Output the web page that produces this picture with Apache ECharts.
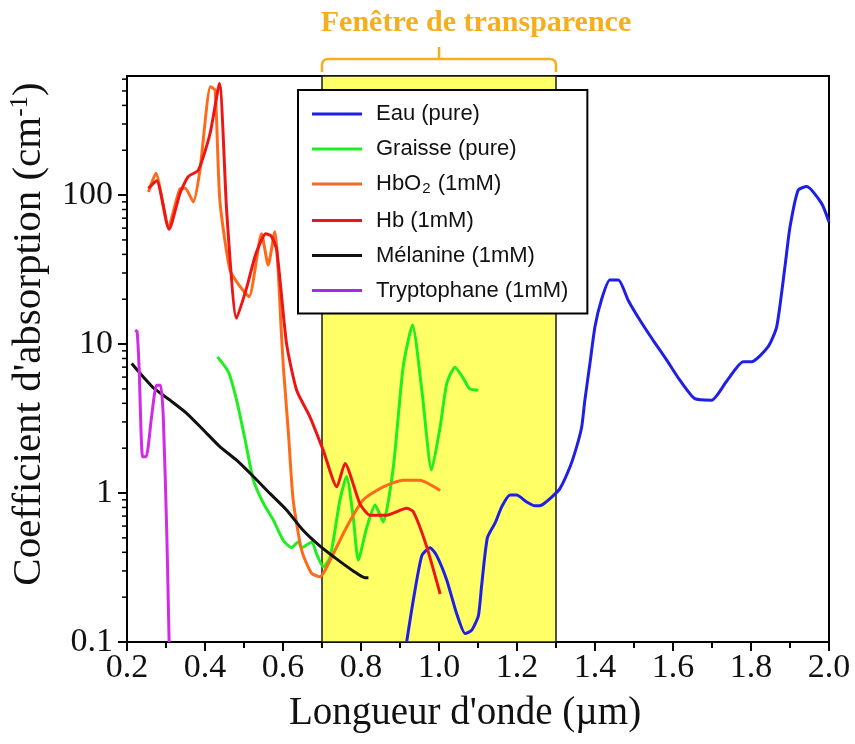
<!DOCTYPE html>
<html>
<head>
<meta charset="utf-8">
<script src="https://cdn.jsdelivr.net/npm/echarts@6/dist/echarts.min.js"></script>
<style>
  html, body { margin: 0; padding: 0; background: #fff; }
  #chart { width: 855px; height: 744px; }
</style>
</head>
<body>
<div id="chart"></div>
<script>
// Absorption spectra: wavelength (µm) and absorption coefficient (cm-1)
const eauX = [0.917, 0.934, 0.956, 0.977, 0.994, 1.020, 1.045, 1.067, 1.084, 1.101, 1.109, 1.124, 1.144, 1.161, 1.182, 1.199, 1.225, 1.246, 1.263, 1.289, 1.310, 1.336, 1.353, 1.366, 1.374, 1.387, 1.400, 1.417, 1.438, 1.460, 1.485, 1.515, 1.549, 1.584, 1.618, 1.656, 1.699, 1.737, 1.780, 1.801, 1.844, 1.866, 1.887, 1.900, 1.921, 1.943, 1.981, 2.000];
const eauY = [0.1, 0.19, 0.38, 0.43, 0.38, 0.26, 0.156, 0.114, 0.12, 0.15, 0.235, 0.50, 0.63, 0.81, 0.97, 0.97, 0.87, 0.82, 0.83, 0.94, 1.07, 1.50, 2.05, 2.79, 4.2, 7.4, 13.1, 20, 26.9, 26.9, 19.7, 14.5, 10.6, 7.8, 5.7, 4.3, 4.2, 5.6, 7.6, 7.6, 9.6, 13.1, 33, 61, 108, 114, 88, 66];

const graisseX = [0.432, 0.460, 0.481, 0.503, 0.524, 0.550, 0.575, 0.601, 0.622, 0.639, 0.648, 0.674, 0.686, 0.703, 0.721, 0.746, 0.763, 0.780, 0.793, 0.815, 0.836, 0.857, 0.883, 0.908, 0.932, 0.956, 0.981, 1.003, 1.020, 1.041, 1.062, 1.079, 1.101];
const graisseY = [8.2, 6.5, 4.2, 2.27, 1.22, 0.85, 0.66, 0.48, 0.43, 0.47, 0.43, 0.47, 0.39, 0.32, 0.37, 0.90, 1.29, 0.69, 0.355, 0.59, 0.83, 0.64, 1.50, 7.0, 13.4, 4.9, 1.43, 2.79, 5.45, 7.0, 5.9, 5.0, 4.9];

const hbo2X = [0.255, 0.274, 0.306, 0.336, 0.349, 0.370, 0.387, 0.414, 0.426, 0.438, 0.464, 0.490, 0.513, 0.545, 0.562, 0.579, 0.588, 0.595, 0.601, 0.614, 0.626, 0.648, 0.673, 0.695, 0.721, 0.763, 0.806, 0.857, 0.908, 0.951, 1.003];
const hbo2Y = [105, 140, 61, 110, 111, 90, 147, 533, 507, 92.5, 31.4, 24.3, 20.8, 55, 33.9, 56.7, 30, 13, 7.0, 2.5, 0.90, 0.41, 0.29, 0.274, 0.355, 0.59, 0.90, 1.10, 1.22, 1.22, 1.04];

const hbX = [0.255, 0.276, 0.308, 0.336, 0.357, 0.383, 0.413, 0.437, 0.456, 0.481, 0.507, 0.530, 0.556, 0.570, 0.584, 0.609, 0.635, 0.669, 0.703, 0.738, 0.759, 0.797, 0.823, 0.866, 0.917, 0.934, 0.968, 1.003];
const hbY = [111, 125, 59, 103, 133, 147, 259, 562, 75, 14.9, 24, 40, 55, 53, 42.7, 10.1, 4.9, 3.25, 1.94, 1.10, 1.58, 0.85, 0.71, 0.71, 0.79, 0.75, 0.44, 0.21];

const melanineX = [0.212, 0.242, 0.267, 0.310, 0.353, 0.396, 0.438, 0.481, 0.524, 0.567, 0.609, 0.652, 0.695, 0.738, 0.780, 0.810, 0.819];
const melanineY = [7.4, 6.0, 5.1, 4.2, 3.43, 2.65, 2.05, 1.66, 1.29, 0.99, 0.77, 0.56, 0.44, 0.36, 0.30, 0.27, 0.27];

const tryptoX = [0.221, 0.226, 0.231, 0.240, 0.249, 0.263, 0.276, 0.286, 0.293, 0.302, 0.308];
const tryptoY = [12.4, 12.1, 7.0, 1.75, 1.75, 3.25, 5.3, 5.3, 3.25, 0.54, 0.1];

// Axis settings and the transparency window
const xMin = 0.2, xMax = 2.0, xStep = 0.2;
const yMin = 0.1, yMax = 630;
const yLabels = [0.1, 1, 10, 100];
const yMinorTicks = [0.2, 0.3, 0.4, 0.5, 0.6, 0.7, 0.8, 0.9, 2, 3, 4, 5, 6, 7, 8, 9, 20, 30, 40, 50, 60, 70, 80, 90, 200, 300, 400, 500, 600];
const windowRange = [0.7, 1.3];
const windowTitle = 'Fenêtre de transparence';

const names = ['Eau (pure)', 'Graisse (pure)', 'HbO2 (1mM)', 'Hb (1mM)', 'Mélanine (1mM)', 'Tryptophane (1mM)'];
const colors = ['#1f1fe6', '#1fee1f', '#ff6a1a', '#ee1515', '#111111', '#d22ae6'];
const legendColors = ['#1f1fe6', '#1fee1f', '#f26a2a', '#ee1515', '#111111', '#a52ae6'];

const zip = (xs, ys) => xs.map((x, i) => [x, ys[i]]);
const seriesData = [
  zip(eauX, eauY), zip(graisseX, graisseY), zip(hbo2X, hbo2Y),
  zip(hbX, hbY), zip(melanineX, melanineY), zip(tryptoX, tryptoY)
];

const serif = "'Liberation Serif', 'Times New Roman', serif";
const sans = "'Liberation Sans', Arial, sans-serif";

const chart = echarts.init(document.getElementById('chart'), null, { renderer: 'canvas' });

const lineSeries = names.map((n, i) => ({
  name: n,
  type: 'line',
  data: seriesData[i],
  showSymbol: false,
  smooth: 0.2,
  z: 3,
  lineStyle: { color: colors[i], width: 3 },
  itemStyle: { color: legendColors[i] }
}));

chart.setOption({
  animation: false,
  backgroundColor: '#fff',
  grid: { left: 127, right: 26, top: 76, bottom: 102, show: true, borderColor: '#000', borderWidth: 2, backgroundColor: 'transparent' },
  legend: {
    data: names,
    orient: 'vertical',
    left: 298, top: 90,
    padding: [13, 19, 12, 14],
    itemGap: 13,
    itemWidth: 50, itemHeight: 3,
    icon: 'rect',
    backgroundColor: '#fff',
    borderColor: '#000', borderWidth: 2,
    selectedMode: false,
    z: 10,
    formatter: n => n === 'HbO2 (1mM)' ? '{t|HbO}{s|2}{t| (1mM)}' : '{t|' + n + '}',
    textStyle: {
      padding: [0, 0, 0, 9],
      rich: {
        t: { fontFamily: sans, fontSize: 22, color: '#111', lineHeight: 24 },
        s: { fontFamily: sans, fontSize: 15, color: '#111', padding: [10, 1, 0, 1] }
      }
    }
  },
  xAxis: {
    type: 'value', min: xMin, max: xMax, interval: xStep,
    name: "Longueur d'onde (µm)", nameLocation: 'middle', nameGap: 52,
    nameTextStyle: { fontFamily: serif, fontSize: 39, color: '#111', padding: [0, 26, 0, 0] },
    axisLine: { show: true, onZero: false, lineStyle: { color: '#000', width: 2 } },
    axisTick: { show: true, inside: false, length: 9, lineStyle: { color: '#000', width: 2 } },
    minorTick: { show: true, splitNumber: 2, length: 6, lineStyle: { color: '#000', width: 2 } },
    splitLine: { show: false },
    axisLabel: { fontFamily: serif, fontSize: 34, color: '#111', margin: 9, formatter: v => v.toFixed(1) }
  },
  yAxis: {
    type: 'log', logBase: 10, min: yMin, max: yMax,
    name: "{t|Coefficient d'absorption (cm}{p|-1}{t|)}",
    nameLocation: 'middle', nameRotate: 90, nameGap: 76,
    nameTextStyle: {
      padding: [0, 0, 0, 50],
      rich: {
        t: { fontFamily: serif, fontSize: 41, color: '#111' },
        p: { fontFamily: serif, fontSize: 25, color: '#111', padding: [0, 0, 18, 0] }
      }
    },
    axisLine: { show: true, lineStyle: { color: '#000', width: 2 } },
    axisTick: { show: true, inside: false, length: 9, lineStyle: { color: '#000', width: 2 } },
    splitLine: { show: false },
    axisLabel: {
      fontFamily: serif, fontSize: 34, color: '#111', margin: 14,
      showMaxLabel: false,
      formatter: v => {
        const hit = yLabels.find(l => Math.abs(Math.log10(v) - Math.log10(l)) < 1e-6);
        return hit === undefined ? '' : String(hit);
      }
    }
  },
  series: [
    {
      // transparency window band
      name: 'window', type: 'line', data: [], z: 1,
      markArea: {
        silent: true,
        itemStyle: { color: '#ffff66', borderColor: '#1a1a1a', borderWidth: 1.5 },
        data: [[{ xAxis: windowRange[0] }, { xAxis: windowRange[1] }]]
      }
    },
    {
      // logarithmic minor ticks on the absorption axis
      name: 'minorTicks', type: 'custom', z: 4, clip: false, silent: true,
      data: yMinorTicks,
      encode: { y: 0 },
      renderItem: (params, api) => {
        const p = api.coord([xMin, api.value(0)]);
        return {
          type: 'line',
          shape: { x1: p[0] - 5, y1: p[1], x2: p[0], y2: p[1] },
          style: { stroke: '#000', lineWidth: 1.5 }
        };
      }
    }
  ].concat(lineSeries)
});

// Bracket and caption above the transparency window
const xl = chart.convertToPixel({ xAxisIndex: 0 }, windowRange[0]);
const xr = chart.convertToPixel({ xAxisIndex: 0 }, windowRange[1]);
const xc = (xl + xr) / 2;
const gold = '#f4ae1e';
const yb = 59, yLeg = 72;
chart.setOption({
  graphic: [
    {
      type: 'polyline', silent: true, z: 20,
      shape: { points: [[xl, yLeg], [xl, yb + 5], [xl + 1, yb + 2.2], [xl + 3, yb + 0.6], [xl + 6, yb],
                        [xr - 6, yb], [xr - 3, yb + 0.6], [xr - 1, yb + 2.2], [xr, yb + 5], [xr, yLeg]] },
      style: { stroke: gold, lineWidth: 2.5, fill: null }
    },
    {
      type: 'line', silent: true, z: 20,
      shape: { x1: xc, y1: yb, x2: xc, y2: 47 },
      style: { stroke: gold, lineWidth: 2.5 }
    },
    {
      type: 'text', silent: true, z: 20,
      x: 476, y: 23,
      style: { text: windowTitle, fill: gold, font: 'bold 30px ' + serif, textAlign: 'center', textVerticalAlign: 'middle' }
    }
  ]
});
</script>
</body>
</html>
